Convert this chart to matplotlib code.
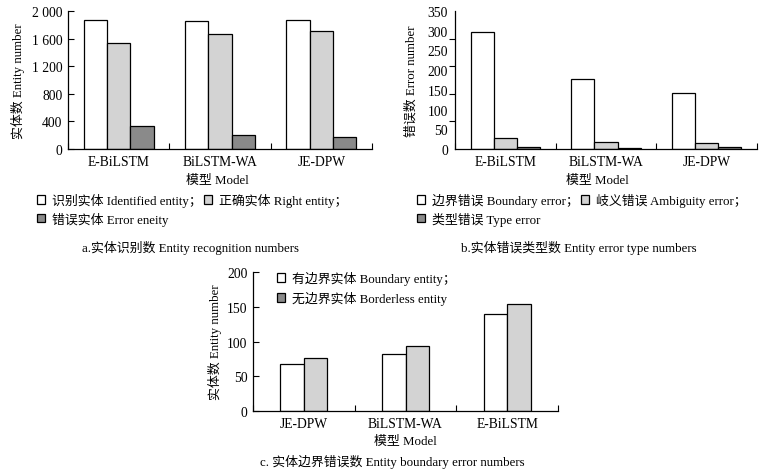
import matplotlib
matplotlib.use("Agg")
import matplotlib.pyplot as plt
import numpy as np
from matplotlib.patches import Patch
from matplotlib.ticker import FixedLocator

plt.rcParams['font.family'] = ['Liberation Serif', 'Noto Sans CJK SC']
plt.rcParams['font.size'] = 9.3
plt.rcParams['axes.unicode_minus'] = False

# ---- data ----
models_ab = ["E-BiLSTM", "BiLSTM-WA", "JE-DPW"]
identified = [1874, 1855, 1870]
right = [1536, 1662, 1705]
error = [328, 203, 174]

boundary_err = [296, 177, 142]
ambiguity_err = [27, 18, 14]
type_err = [6, 3, 4]

models_c = ["JE-DPW", "BiLSTM-WA", "E-BiLSTM"]
boundary_ent = [67, 82, 140]
borderless_ent = [76, 94, 154]

a_yticks = [0, 400, 800, 1200, 1600, 2000]
a_yticklabels = ["0", "400", "800", "1 200", "1 600", "2 000"]
b_yticks = [0, 50, 100, 150, 200, 250, 300, 350]
b_tickmarks = [0, 70, 140, 210, 280, 350]
c_yticks = [0, 50, 100, 150, 200]

WHITE = "#ffffff"
LIGHT = "#d3d3d3"
DARK = "#8a8a8a"

TICK_FS = 9.8

W, H = 774, 477
fig = plt.figure(figsize=(W / 100, H / 100), dpi=100)


def add_ax(l, r, t, b):
    return fig.add_axes([l / W, (H - b) / H, (r - l) / W, (b - t) / H])


def style(ax, n):
    ax.spines['top'].set_visible(False)
    ax.spines['right'].set_visible(False)
    ax.set_xlim(-0.5, n - 0.5)
    ax.set_xticks(np.arange(n))
    ax.tick_params(axis='x', which='major', length=0, pad=4, labelsize=TICK_FS)
    ax.xaxis.set_minor_locator(FixedLocator(np.arange(n + 1) - 0.5))
    ax.tick_params(axis='x', which='minor', direction='in', length=4, width=0.8)
    ax.tick_params(axis='y', labelsize=TICK_FS)
    for s in ax.spines.values():
        s.set_linewidth(0.9)


bw = 0.23
x = np.arange(3)

# ---- chart a ----
axa = add_ax(68, 372, 12, 150)
for off, vals, col in zip([-bw, 0, bw], [identified, right, error], [WHITE, LIGHT, DARK]):
    axa.bar(x + off, vals, bw, color=col, edgecolor='black', linewidth=0.9)
style(axa, 3)
axa.set_xticklabels(models_ab)
axa.set_ylim(0, 2000)
axa.set_yticks(a_yticks)
axa.set_yticklabels(a_yticklabels)
axa.tick_params(axis='y', direction='in', length=4, width=0.8, pad=4)
axa.set_ylabel("实体数 Entity number")
axa.yaxis.set_label_coords(-0.141, 0.5)

# ---- chart b ----
axb = add_ax(455, 757, 12, 150)
for off, vals, col in zip([-bw, 0, bw], [boundary_err, ambiguity_err, type_err], [WHITE, LIGHT, DARK]):
    axb.bar(x + off, vals, bw, color=col, edgecolor='black', linewidth=0.9)
style(axb, 3)
axb.set_xticklabels(models_ab)
axb.set_ylim(0, 350)
axb.set_yticks(b_yticks)
axb.tick_params(axis='y', which='major', length=0, pad=5)
axb.yaxis.set_minor_locator(FixedLocator(b_tickmarks))
axb.tick_params(axis='y', which='minor', direction='out', length=4, width=0.8)
axb.set_ylabel("错误数 Error number")
axb.yaxis.set_label_coords(-0.123, 0.5)

# ---- chart c ----
axc = add_ax(253, 558, 273, 412)
xc = np.arange(len(models_c))
axc.bar(xc - bw / 2, boundary_ent, bw, color=WHITE, edgecolor='black', linewidth=0.9)
axc.bar(xc + bw / 2, borderless_ent, bw, color=LIGHT, edgecolor='black', linewidth=0.9)
style(axc, 3)
axc.set_xticklabels(models_c)
axc.set_ylim(0, 200)
axc.set_yticks(c_yticks)
axc.tick_params(axis='y', direction='in', length=4, width=0.8, pad=4)
axc.set_ylabel("实体数 Entity number")
axc.yaxis.set_label_coords(-0.10, 0.5)

# ---- x labels ----
fig.text(217 / W, 1 - 181 / H, "模型 Model", ha='center', va='center')
fig.text(597 / W, 1 - 181 / H, "模型 Model", ha='center', va='center')
fig.text(405 / W, 1 - 442 / H, "模型 Model", ha='center', va='center')

# ---- legends ----
def ph(c):
    return Patch(facecolor=c, edgecolor='black', linewidth=0.9)

leg_kw = dict(frameon=False, handlelength=0.65, handleheight=0.65, handletextpad=0.55,
              labelspacing=0.35, borderpad=0, borderaxespad=0, columnspacing=0.1)

fig.legend([ph(WHITE), ph(DARK), ph(LIGHT)],
           ["识别实体 Identified entity；", "错误实体 Error eneity", "正确实体 Right entity；"],
           loc='upper left', bbox_to_anchor=(37 / W, 1 - 194 / H), ncol=2, **leg_kw)

fig.legend([ph(WHITE), ph(DARK), ph(LIGHT)],
           ["边界错误 Boundary error；", "类型错误 Type error", "岐义错误 Ambiguity error；"],
           loc='upper left', bbox_to_anchor=(417 / W, 1 - 194 / H), ncol=2, **leg_kw)

lc = dict(leg_kw)
lc['labelspacing'] = 0.45
axc.legend([ph(WHITE), ph(DARK)],
           ["有边界实体 Boundary entity；", "无边界实体 Borderless entity"],
           loc='upper left', bbox_to_anchor=((277 - 253) / 305, 1 - (272 - 273) / 139),
           **lc)

# ---- captions ----
fig.text(190 / W, 1 - 248 / H, "a.实体识别数 Entity recognition numbers", ha='center', va='center')
fig.text(579 / W, 1 - 248 / H, "b.实体错误类型数 Entity error type numbers", ha='center', va='center')
fig.text(392 / W, 1 - 462 / H, "c. 实体边界错误数 Entity boundary error numbers", ha='center', va='center')

fig.savefig("out.png", dpi=100)
